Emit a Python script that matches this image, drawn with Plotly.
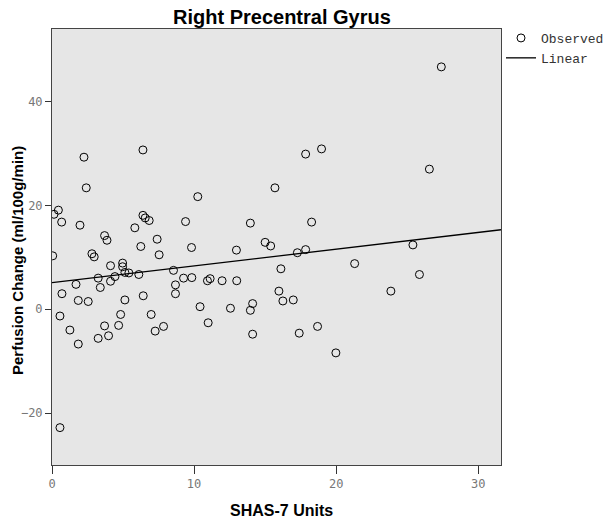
import plotly.graph_objects as go

# SHAS-7 Units (x) and Perfusion Change (ml/100g/min) (y)
shas_units = [
    2.25, 6.4, 2.41, 10.26, 0.45, 0.14, 0.68, 1.97, 6.4, 6.56, 6.84, 5.83, 9.4, 13.96,
    3.7, 3.87, 7.4, 15.0,
    27.4, 17.85, 18.97, 15.69, 26.56, 18.27,
    0.05, 6.25, 9.82, 12.98, 2.81, 2.97, 7.54, 4.12, 4.97, 4.97, 5.13, 5.41, 8.55, 6.11,
    4.43, 4.12, 3.25, 3.4, 1.69, 8.69, 9.26, 9.84, 10.94, 11.13, 11.97, 13.0, 0.7, 1.85,
    2.55, 8.69, 6.42, 5.13, 10.42, 12.56, 14.12, 13.96, 0.56, 4.83, 6.98, 1.26, 3.7, 4.69,
    7.85, 7.26, 10.99, 14.12, 3.25, 3.98, 1.85, 0.56,
    15.39, 17.27, 17.85, 25.4, 16.11, 21.3, 25.86, 15.97, 16.25, 16.98, 23.85, 18.69,
    17.4, 19.98,
]
perfusion_change = [
    29.3, 30.7, 23.4, 21.7, 19.1, 18.3, 16.8, 16.2, 18.1, 17.6, 17.1, 15.7, 16.9, 16.6,
    14.2, 13.3, 13.5, 12.9,
    46.7, 29.9, 30.9, 23.4, 27.0, 16.8,
    10.3, 12.1, 11.9, 11.4, 10.7, 10.1, 10.5, 8.4, 8.9, 8.2, 7.1, 7.0, 7.5, 6.7,
    6.3, 5.4, 6.0, 4.2, 4.8, 4.7, 6.0, 6.1, 5.5, 5.9, 5.5, 5.5, 3.0, 1.7,
    1.5, 3.0, 2.6, 1.8, 0.5, 0.2, 1.1, -0.2, -1.3, -1.0, -1.0, -4.0, -3.2, -3.1,
    -3.3, -4.2, -2.6, -4.8, -5.6, -5.1, -6.7, -22.8,
    12.2, 10.9, 11.5, 12.4, 7.8, 8.8, 6.7, 3.5, 1.6, 1.8, 3.5, -3.3,
    -4.6, -8.4,
]

# Linear fit line
fit_intercept = 5.12
fit_slope = 0.323

x_range = [0, 31.6]
y_range = [-30, 54]
x_ticks = [0, 10, 20, 30]
y_ticks = [-20, 0, 20, 40]

fig = go.Figure()
fig.add_trace(go.Scatter(
    x=shas_units, y=perfusion_change, mode="markers", name="Observed",
    marker=dict(symbol="circle-open", size=8, color="black", line=dict(width=1)),
))
fit_x = list(x_range)
fit_y = [fit_intercept + fit_slope * v for v in fit_x]
fig.add_trace(go.Scatter(
    x=fit_x, y=fit_y, mode="lines", name="Linear",
    line=dict(color="black", width=1.3),
))

# the page body adds an 8px margin, so the figure is 8px smaller on each axis
W, H = 607, 516
tickfont = dict(family="DejaVu Sans Mono", size=12, color="#777777")
fig.update_layout(
    width=W, height=H,
    margin=dict(l=44, r=114, t=21, b=59, autoexpand=False),
    paper_bgcolor="white", plot_bgcolor="#E6E6E6",
    showlegend=True,
    legend=dict(xref="container", yref="container", x=493 / W, y=1 - 15 / H,
                xanchor="left", yanchor="top",
                font=dict(family="Liberation Mono", size=13, color="#333333"),
                bgcolor="rgba(0,0,0,0)", tracegroupgap=0, itemwidth=30),
    xaxis=dict(range=x_range, tickvals=x_ticks, ticks="outside", ticklen=8, tickwidth=1,
               tickcolor="#333333", showline=True, linecolor="#444444", linewidth=1,
               mirror=True, showgrid=False, zeroline=False, tickfont=tickfont,
               automargin=False),
    yaxis=dict(range=y_range, tickvals=y_ticks, ticks="outside", ticklen=6, tickwidth=1,
               tickcolor="#333333", showline=True, linecolor="#444444", linewidth=1,
               mirror=True, showgrid=False, zeroline=False, tickfont=tickfont,
               automargin=False),
    annotations=[
        dict(text="<b>Right Precentral Gyrus</b>", xref="paper", yref="paper",
             x=(282 - 52) / 449, y=(465 - 17) / 436, xanchor="center", yanchor="middle",
             showarrow=False, font=dict(family="Liberation Sans", size=20, color="black")),
        dict(text="<b>SHAS-7 Units</b>", xref="paper", yref="paper",
             x=(281 - 52) / 449, y=(465 - 510) / 436, xanchor="center", yanchor="middle",
             showarrow=False, font=dict(family="Liberation Sans", size=16, color="black")),
        dict(text="<b>Perfusion Change (ml/100g/min)</b>", xref="paper", yref="paper",
             x=(18 - 52) / 449, y=(465 - 261) / 436, xanchor="center", yanchor="middle",
             textangle=-90, showarrow=False,
             font=dict(family="Liberation Sans", size=15, color="black")),
    ],
)

fig.write_html("out.html")
